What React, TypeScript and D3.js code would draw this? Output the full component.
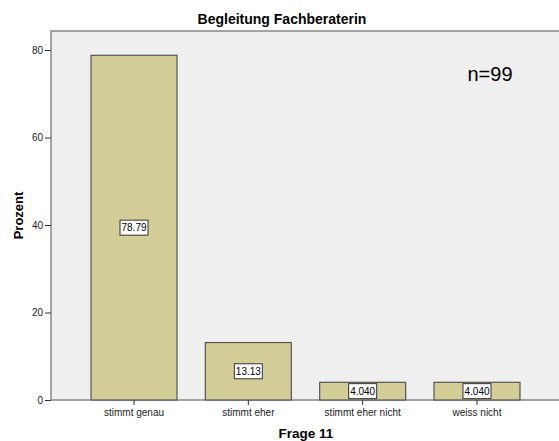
import React, { useEffect, useRef } from 'react';
import * as d3 from 'd3';

const categories = ['stimmt genau', 'stimmt eher', 'stimmt eher nicht', 'weiss nicht'];
const values = [78.79, 13.13, 4.04, 4.04];
const valueLabels = ['78.79', '13.13', '4.040', '4.040'];
const yTicks = [0, 20, 40, 60, 80];

const App = () => {
  const ref = useRef<SVGSVGElement>(null);

  useEffect(() => {
    const width = 559;
    const height = 441;
    const left = 51;
    const right = 560;
    const top = 31;
    const bottom = 400;
    const font = 'Liberation Sans, Arial, sans-serif';

    const svg = d3.select(ref.current);
    svg.selectAll('*').remove();

    const x = d3.scaleBand().domain(categories).range([left, right]).paddingInner(0.248).paddingOuter(0.35);
    const y = d3.scaleLinear().domain([0, 80]).range([bottom, 50]);

    svg.append('rect').attr('width', width).attr('height', height).attr('fill', '#fff');
    svg.append('rect')
      .attr('x', left).attr('y', top)
      .attr('width', right - left + 10).attr('height', bottom - top)
      .attr('fill', '#efefef').attr('stroke', '#888').attr('stroke-width', 1.5);

    svg.append('text')
      .attr('x', 282).attr('y', 24)
      .attr('text-anchor', 'middle')
      .style('font-family', font)
      .style('font-weight', 'bold').style('font-size', '14px')
      .text('Begleitung Fachberaterin');

    svg.selectAll('rect.bar')
      .data(values)
      .enter()
      .append('rect')
      .attr('class', 'bar')
      .attr('x', (d, i) => x(categories[i]) as number)
      .attr('y', (d) => y(d))
      .attr('width', x.bandwidth())
      .attr('height', (d) => bottom - y(d))
      .attr('fill', '#d3ce97')
      .attr('stroke', '#555')
      .attr('stroke-width', 1.2);

    const labels = svg.selectAll('g.lbl')
      .data(values)
      .enter()
      .append('g')
      .attr('class', 'lbl')
      .attr('transform', (d, i) => `translate(${(x(categories[i]) as number) + x.bandwidth() / 2},${(y(d) + bottom) / 2})`);
    labels.append('rect')
      .attr('x', -14).attr('y', -7.5).attr('width', 28).attr('height', 15)
      .attr('fill', '#fff').attr('stroke', '#333').attr('stroke-width', 1);
    labels.append('text')
      .attr('text-anchor', 'middle').attr('dy', '0.35em')
      .style('font-family', font)
      .style('font-size', '10px')
      .text((d, i) => valueLabels[i]);

    // y axis
    const yAxis = svg.append('g').attr('transform', `translate(${left},0)`)
      .call(d3.axisLeft(y).tickValues(yTicks).tickSize(6).tickFormat(d3.format('d')));
    yAxis.select('.domain').remove();
    yAxis.selectAll('line').attr('stroke', '#333');
    yAxis.selectAll('text')
      .attr('x', -8)
      .style('font-family', font)
      .style('font-size', '10px').attr('fill', '#222');

    const xAxis = svg.append('g').attr('transform', `translate(0,${bottom})`)
      .call(d3.axisBottom(x).tickSize(5));
    xAxis.select('.domain').remove();
    xAxis.selectAll('line').attr('stroke', '#333');
    xAxis.selectAll('text')
      .attr('y', 9)
      .style('font-family', font)
      .style('font-size', '10px').attr('fill', '#222');

    svg.append('text')
      .attr('transform', `translate(23,${(top + bottom) / 2}) rotate(-90)`)
      .attr('text-anchor', 'middle')
      .style('font-family', font)
      .style('font-weight', 'bold').style('font-size', '13px')
      .text('Prozent');

    svg.append('text')
      .attr('x', 306).attr('y', 438)
      .attr('text-anchor', 'middle')
      .style('font-family', font)
      .style('font-weight', 'bold').style('font-size', '13.5px')
      .text('Frage 11');

    svg.append('text')
      .attr('x', 490).attr('y', 81)
      .attr('text-anchor', 'middle')
      .style('font-family', font)
      .style('font-size', '20px')
      .text('n=99');
  }, []);

  return (
    <svg ref={ref} width={559} height={441} style={{ position: 'absolute', left: 0, top: 0 }} />
  );
};

export default App;
